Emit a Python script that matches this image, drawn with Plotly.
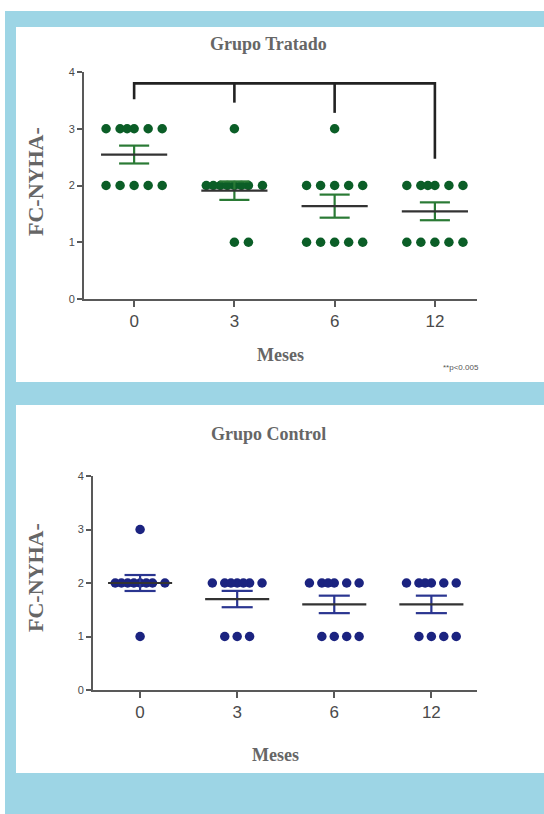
import numpy as np
import plotly.graph_objects as go

W, H = 544, 814

months = ["0", "3", "6", "12"]

tratado_0 = [3, 3, 3, 3, 3, 3, 2, 2, 2, 2, 2]
tratado_3 = [3, 2, 2, 2, 2, 2, 2, 2, 2, 1, 1]
tratado_6 = [3, 2, 2, 2, 2, 2, 1, 1, 1, 1, 1]
tratado_12 = [2, 2, 2, 2, 2, 2, 1, 1, 1, 1, 1]

control_0 = [3, 2, 2, 2, 2, 2, 2, 2, 2, 1]
control_3 = [2, 2, 2, 2, 2, 2, 2, 1, 1, 1]
control_6 = [2, 2, 2, 2, 2, 2, 1, 1, 1, 1]
control_12 = [2, 2, 2, 2, 2, 2, 1, 1, 1, 1]

# significance bracket (treated group): top bar level and leg ends per month
bracket_top = 3.8
bracket_legs = [3.52, 3.46, 3.28, 2.47]

y_ticks = [0, 1, 2, 3, 4]

GREEN = "#0b5e27"
GREEN_BAR = "#2a7a35"
NAVY = "#1b2380"
NAVY_BAR = "#2a3590"
MEANC = "#333333"
AXC = "#595959"
BLUE_FRAME = "#9dd5e5"
TITLEC = "#666666"


def px(x):
    return x / W


def py(y):
    return 1 - y / H


def swarm(k):
    if k <= 5:
        if k % 2:
            return list(range(-(k // 2), k // 2 + 1))
        return list(range(-(k // 2 - 1), k // 2 + 1))
    base = [-2, -1, 0, 1, 2]
    extra = [-0.5, 0.5, -1.5, 1.5, -0.25, 0.25, -0.75, 0.75]
    return base + extra[: k - 5]


def add_group(fig, series, xa, ya, color, barcolor, unit, mean_half, cap_half):
    for i, vals in enumerate(series):
        vals = np.array(vals, dtype=float)
        xs, ys = [], []
        for v in sorted(set(vals), reverse=True):
            k = int((vals == v).sum())
            for o in swarm(k):
                xs.append(i + o * unit)
                ys.append(v)
        fig.add_trace(go.Scatter(x=xs, y=ys, mode="markers", xaxis=xa, yaxis=ya,
                                 marker=dict(size=9.5, color=color, line=dict(width=0)),
                                 showlegend=False, hoverinfo="skip"))
        m = vals.mean()
        sem = vals.std(ddof=1) / np.sqrt(len(vals))
        ex = [i, i, None, i - cap_half, i + cap_half, None, i - cap_half, i + cap_half]
        ey = [m - sem, m + sem, None, m - sem, m - sem, None, m + sem, m + sem]
        fig.add_trace(go.Scatter(x=ex, y=ey, mode="lines", xaxis=xa, yaxis=ya,
                                 line=dict(color=barcolor, width=2.2),
                                 showlegend=False, hoverinfo="skip"))
        fig.add_trace(go.Scatter(x=[i - mean_half, i + mean_half], y=[m, m], mode="lines",
                                 xaxis=xa, yaxis=ya, line=dict(color=MEANC, width=2.2),
                                 showlegend=False, hoverinfo="skip"))


fig = go.Figure()

tratado = [tratado_0, tratado_3, tratado_6, tratado_12]
control = [control_0, control_3, control_6, control_12]

add_group(fig, tratado, "x", "y", GREEN, GREEN_BAR, 0.14, 0.33, 0.15)
add_group(fig, control, "x2", "y2", NAVY, NAVY_BAR, 0.128, 0.33, 0.16)

# bracket
bx, by = [], []
bx += [0, 0, 3, 3]
by += [bracket_legs[0], bracket_top, bracket_top, bracket_legs[3]]
bx.append(None); by.append(None)
for i in (1, 2):
    bx += [i, i, None]
    by += [bracket_top, bracket_legs[i], None]
fig.add_trace(go.Scatter(x=bx, y=by, mode="lines", xaxis="x", yaxis="y",
                         line=dict(color="#222222", width=2.6),
                         showlegend=False, hoverinfo="skip"))

shapes = [
    dict(type="rect", xref="paper", yref="paper", x0=px(5), x1=px(544), y0=py(814), y1=py(11),
         fillcolor=BLUE_FRAME, line=dict(width=0), layer="below"),
    dict(type="rect", xref="paper", yref="paper", x0=px(16), x1=px(544), y0=py(382), y1=py(27),
         fillcolor="white", line=dict(width=0), layer="below"),
    dict(type="rect", xref="paper", yref="paper", x0=px(16), x1=px(544), y0=py(773), y1=py(405),
         fillcolor="white", line=dict(width=0), layer="below"),
]

title_font = dict(family="Liberation Serif, Times New Roman, serif", size=18, color=TITLEC)
ytitle_font = dict(family="Liberation Serif, Times New Roman, serif", size=22, color=TITLEC)
annotations = [
    dict(text="<b>Grupo Tratado</b>", x=px(268), y=py(44), xref="paper", yref="paper",
         showarrow=False, font=title_font, xanchor="center", yanchor="middle"),
    dict(text="<b>Grupo Control</b>", x=px(268), y=py(434), xref="paper", yref="paper",
         showarrow=False, font=title_font, xanchor="center", yanchor="middle"),
    dict(text="<b>Meses</b>", x=px(280), y=py(355), xref="paper", yref="paper",
         showarrow=False, font=title_font, xanchor="center", yanchor="middle"),
    dict(text="<b>Meses</b>", x=px(275), y=py(755), xref="paper", yref="paper",
         showarrow=False, font=title_font, xanchor="center", yanchor="middle"),
    dict(text="<b>FC-NYHA-</b>", x=px(35), y=py(182), xref="paper", yref="paper",
         showarrow=False, font=ytitle_font, textangle=-90, xanchor="center", yanchor="middle"),
    dict(text="<b>FC-NYHA-</b>", x=px(35), y=py(578), xref="paper", yref="paper",
         showarrow=False, font=ytitle_font, textangle=-90, xanchor="center", yanchor="middle"),
    dict(text="**p<0.005", x=px(461), y=py(367), xref="paper", yref="paper",
         showarrow=False, font=dict(family="Arial, Liberation Sans", size=8, color="#555555"),
         xanchor="center", yanchor="middle"),
]

xax = dict(showline=True, linecolor=AXC, linewidth=2, ticks="outside", ticklen=6, tickwidth=2,
           tickcolor=AXC, showgrid=False, zeroline=False, tickmode="array",
           tickvals=list(range(len(months))), ticktext=months,
           tickfont=dict(family="Arial, Liberation Sans", size=17, color="#4a4a4a"),
           fixedrange=True, automargin=False)
yax = dict(showline=True, linecolor=AXC, linewidth=2, ticks="outside", ticklen=5, tickwidth=2,
           tickcolor=AXC, showgrid=False, zeroline=False, tickmode="array",
           tickvals=y_ticks, ticktext=[str(t) for t in y_ticks],
           tickfont=dict(family="Arial, Liberation Sans", size=11, color="#4a4a4a"),
           range=[0, 4], fixedrange=True, automargin=False)

fig.update_layout(
    width=W, height=H, margin=dict(l=0, r=0, t=0, b=0, pad=0, autoexpand=False),
    paper_bgcolor="white", plot_bgcolor="rgba(0,0,0,0)",
    shapes=shapes, annotations=annotations, showlegend=False,
    xaxis=dict(xax, domain=[px(84), px(477)], range=[-0.5, 3.42], anchor="y"),
    yaxis=dict(yax, domain=[py(299), py(72)], anchor="x"),
    xaxis2=dict(xax, domain=[px(93), px(477)], range=[-0.485, 3.47], anchor="y2"),
    yaxis2=dict(yax, domain=[py(690), py(476)], anchor="x2"),
)

fig.write_html("out.html")
